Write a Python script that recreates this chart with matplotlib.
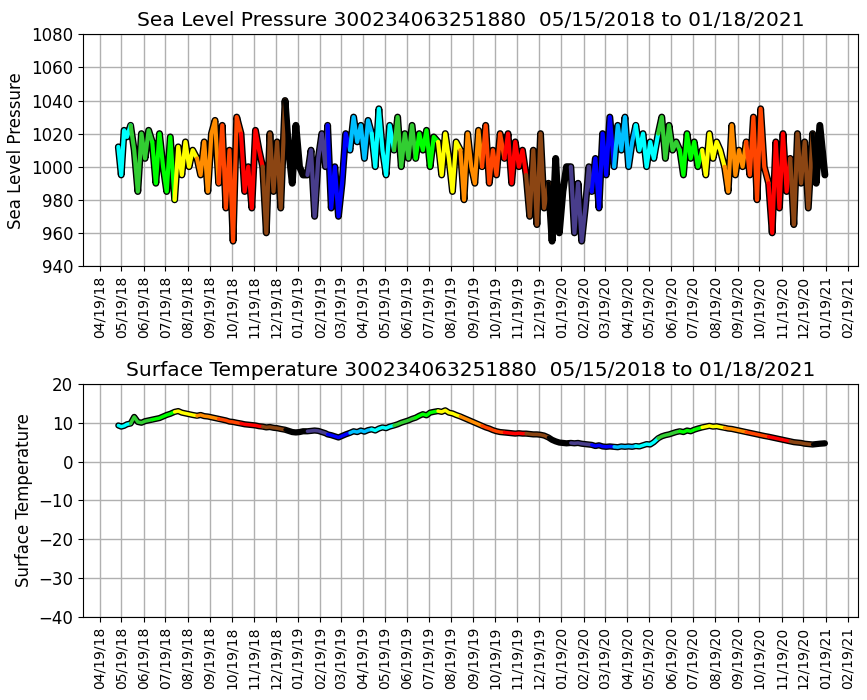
import matplotlib
matplotlib.use("Agg")
import matplotlib.pyplot as plt
import matplotlib.dates as mdates
import pandas as pd

# month start, sample days within the month
months = pd.period_range("2018-05", "2021-01", freq="M")
sample_days = [1, 6, 11, 16, 21, 26]
first_days = [15, 19, 23, 27]   # May 2018 starts on the 15th
last_days = [1, 6, 11, 18]      # Jan 2021 ends on the 18th

slp = [
    [1012, 995, 1022, 1018],
    [1025, 1010, 985, 1020, 1005, 1022],
    [1015, 990, 1020, 1000, 985, 1018],
    [980, 1012, 995, 1015, 1000, 1010],
    [1005, 995, 1015, 985, 1020, 1028],
    [990, 1025, 975, 1010, 955, 1030],
    [1020, 985, 1000, 975, 1022, 1010],
    [1000, 960, 1020, 985, 1015, 975],
    [1040, 1010, 990, 1025, 1000, 995],
    [995, 1010, 970, 1005, 1020, 1000],
    [1025, 975, 1000, 970, 990, 1020],
    [1010, 1030, 1015, 1025, 1005, 1028],
    [1020, 1000, 1035, 1010, 995, 1025],
    [1010, 1030, 1000, 1020, 1005, 1025],
    [1005, 1020, 1010, 1022, 1000, 1018],
    [1015, 995, 1020, 1005, 985, 1015],
    [1010, 980, 1020, 1000, 990, 1022],
    [1000, 1025, 990, 1010, 995, 1020],
    [1005, 1020, 990, 1015, 1000, 1010],
    [995, 970, 1010, 965, 1020, 975],
    [990, 955, 1005, 960, 985, 1000],
    [1000, 960, 990, 955, 975, 1000],
    [985, 1005, 975, 1020, 995, 1030],
    [1000, 1025, 1010, 1030, 1000, 1015],
    [1025, 1010, 1020, 1000, 1015, 1005],
    [1020, 1030, 1005, 1025, 1010, 1015],
    [1010, 995, 1020, 1005, 1015, 1000],
    [1010, 995, 1020, 1005, 1015, 1010],
    [1000, 985, 1025, 995, 1010, 1000],
    [1015, 995, 1030, 980, 1035, 1000],
    [990, 960, 1015, 975, 1020, 985],
    [1005, 965, 1020, 990, 1015, 975],
    [1020, 990, 1025, 995],
]

sst = [
    [9.3, 9.0, 9.2, 9.6],
    [9.8, 11.5, 10.2, 10.0, 10.4, 10.6],
    [10.8, 11.0, 11.2, 11.6, 12.0, 12.3],
    [12.8, 13.0, 12.6, 12.4, 12.2, 12.0],
    [11.8, 12.0, 11.7, 11.6, 11.4, 11.2],
    [11.0, 10.8, 10.6, 10.3, 10.2, 10.0],
    [9.8, 9.6, 9.5, 9.4, 9.3, 9.1],
    [9.0, 8.8, 8.9, 8.7, 8.6, 8.4],
    [8.2, 7.9, 7.6, 7.5, 7.6, 7.8],
    [7.8, 7.9, 8.0, 7.9, 7.6, 7.3],
    [7.0, 6.8, 6.5, 6.2, 6.6, 7.0],
    [7.4, 7.8, 7.6, 8.0, 7.7, 8.1],
    [8.3, 8.0, 8.5, 8.8, 8.6, 9.0],
    [9.3, 9.6, 10.0, 10.3, 10.6, 11.0],
    [11.3, 11.8, 12.2, 11.9, 12.6, 12.8],
    [13.0, 12.8, 13.2, 12.6, 12.4, 12.0],
    [11.6, 11.2, 10.8, 10.4, 10.0, 9.6],
    [9.2, 8.8, 8.5, 8.1, 7.8, 7.6],
    [7.5, 7.4, 7.3, 7.2, 7.3, 7.2],
    [7.2, 7.1, 7.0, 7.0, 6.9, 6.7],
    [6.2, 5.6, 5.2, 4.9, 4.8, 4.7],
    [4.8, 4.7, 4.8, 4.6, 4.5, 4.4],
    [4.3, 4.0, 4.2, 3.9, 3.8, 3.9],
    [3.8, 3.7, 3.9, 3.8, 3.9, 3.8],
    [4.0, 3.9, 4.2, 4.5, 4.4, 5.0],
    [6.0, 6.5, 6.8, 7.0, 7.3, 7.6],
    [7.8, 7.6, 8.0, 7.8, 8.2, 8.5],
    [8.8, 9.0, 9.2, 9.0, 9.1, 8.9],
    [8.7, 8.5, 8.4, 8.2, 8.0, 7.8],
    [7.6, 7.4, 7.2, 7.0, 6.8, 6.6],
    [6.4, 6.2, 6.0, 5.8, 5.6, 5.4],
    [5.2, 5.0, 4.9, 4.8, 4.6, 4.5],
    [4.4, 4.5, 4.6, 4.7],
]

month_colors = {1: "black", 2: "darkslateblue", 3: "blue", 4: "deepskyblue",
                5: "cyan", 6: "limegreen", 7: "lime", 8: "yellow",
                9: "darkorange", 10: "orangered", 11: "red", 12: "saddlebrown"}


def month_dates(i):
    p = months[i]
    if i == 0:
        days = first_days
    elif i == len(months) - 1:
        days = last_days
    else:
        days = sample_days
    return [pd.Timestamp(p.year, p.month, d) for d in days]


def draw(ax, values, lw):
    all_d, all_v = [], []
    for i in range(len(months)):
        all_d += month_dates(i)
        all_v += values[i]
    ax.plot(all_d, all_v, color="black", lw=lw + 2, zorder=2, solid_capstyle="round")
    for i in range(len(months)):
        d = month_dates(i)
        v = list(values[i])
        if i + 1 < len(months):
            d = d + [month_dates(i + 1)[0]]
            v = v + [values[i + 1][0]]
        ax.plot(d, v, color=month_colors[months[i].month], lw=lw, zorder=3,
                solid_capstyle="round")


tick_dates = [pd.Timestamp(p.year, p.month, 19) for p in pd.period_range("2018-04", "2021-02", freq="M")]

fig = plt.figure(figsize=(8.67, 7), dpi=100)
ax1 = fig.add_axes([0.0957, 0.62, 0.894, 0.331])
ax2 = fig.add_axes([0.0957, 0.1186, 0.894, 0.333])

draw(ax1, slp, 3)
ax1.set_ylim(940, 1080)
ax1.set_yticks(range(940, 1081, 20))
ax1.set_ylabel("Sea Level Pressure", fontsize=12)
ax1.set_title("Sea Level Pressure 300234063251880  05/15/2018 to 01/18/2021", fontsize=14.5)

draw(ax2, sst, 2.5)
ax2.set_ylim(-40, 20)
ax2.set_ylabel("Surface Temperature", fontsize=12)
ax2.set_title("Surface Temperature 300234063251880  05/15/2018 to 01/18/2021", fontsize=14.5)

for ax in (ax1, ax2):
    ax.set_xlim(pd.Timestamp(2018, 3, 27), pd.Timestamp(2021, 3, 5))
    ax.set_xticks(tick_dates)
    ax.xaxis.set_major_formatter(mdates.DateFormatter("%m/%d/%y"))
    ax.tick_params(axis="x", labelrotation=90, labelsize=10)
    ax.tick_params(axis="y", labelsize=12)
    ax.grid(True, color="#b0b0b0", lw=1)
    ax.set_axisbelow(True)

plt.savefig("out.png", dpi=100)
